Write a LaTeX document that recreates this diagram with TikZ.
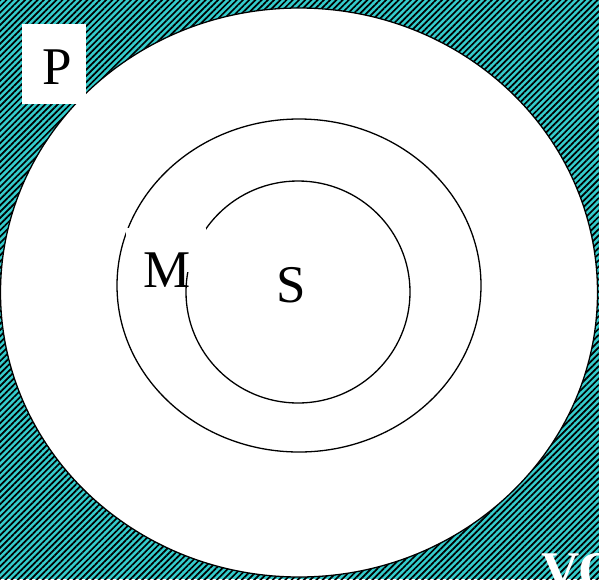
\documentclass[tikz,border=0pt]{standalone}
\usepackage{fontspec}
\setmainfont{Liberation Serif}
\usetikzlibrary{patterns.meta}
\definecolor{seateal}{RGB}{51,204,204}
\tikzset{
  ring/.style={draw=black, line width=1.3pt},
  labelbox/.style={fill=white, inner sep=0pt},
  setlabel/.style={font=\fontsize{53}{53}\selectfont, inner sep=0pt},
  hatch/.style={pattern={Lines[angle=45, distance=4.4pt, line width=1.7pt]}, pattern color=black},
}

\begin{document}
\begin{tikzpicture}[x=1pt, y=-1pt]
  \clip (0,0) rectangle (599,579);

  % hatched background
  \fill[seateal] (0,0) rectangle (599,579);
  \fill[hatch] (0,0) rectangle (599,579);

  % sets
  \draw[ring, fill=white] (299,292.5) ellipse [x radius=298.5, y radius=284.5];
  \draw[ring] (299,285.5) ellipse [x radius=182, y radius=166.5];
  \draw[ring] (298,292) ellipse [x radius=112, y radius=111];

  % labels
  \node[labelbox, minimum width=64pt, minimum height=80pt] (pbox) at (53.5,63.5) {};
  \node[setlabel] (plabel) at (57,67) {P};

  \node[labelbox, minimum width=80pt, minimum height=44pt] (mbox) at (166,250) {};
  \node[setlabel] (mlabel) at (167.5,270) {M};

  \node[setlabel] (slabel) at (291.5,285) {S};

  \node[setlabel, anchor=base west, text=white, font=\fontsize{53}{53}\selectfont\bfseries] (vlabel) at (541,588) {VO};
\end{tikzpicture}
\end{document}
